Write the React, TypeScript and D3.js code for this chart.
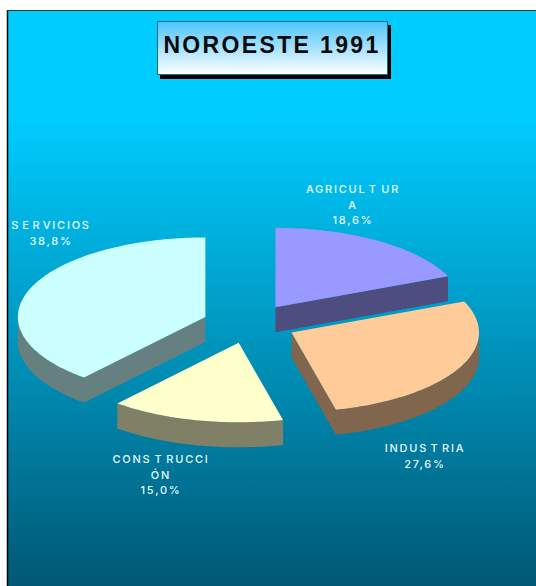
import React from "react";
import * as d3 from "d3";

const title = "NOROESTE 1991";
const categories = ["AGRICULTURA", "INDUSTRIA", "CONSTRUCCIÓN", "SERVICIOS"];
const shares = [18.6, 27.6, 15.0, 38.8];
const valueLabels = ["18,6%", "27,6%", "15,0%", "38,8%"];
const labelLines = [["AGRICULTUR", "A"], ["INDUSTRIA"], ["CONSTRUCCI", "ÓN"], ["SERVICIOS"]];
const topColors = ["#9999ff", "#ffcc99", "#ffffcc", "#ccffff"];
const wallColors = ["#4d4d80", "#80664d", "#808066", "#668080"];
const labelAnchors: [number, number][] = [[353, 193], [425, 452], [161, 463], [51, 229]];
const drawOrder = [0, 3, 2, 1];

// Extra letter gaps seen in the reference's label text, keyed by text line: [character index, gap].
const letterGaps: Record<string, [number, number][]> = {
  AGRICULTUR: [[7, 3.5], [8, 3.5]],
  INDUSTRIA: [[5, 2.5], [6, 2.5]],
  CONSTRUCCI: [[4, 3], [5, 3]],
  SERVICIOS: [[1, 2], [2, 2], [3, 1.5]],
};

const W = 536, H = 586;
const rx = 187.5, ry = 79.5, depth = 25, explode = 47, cx = 249.5, cy = 323.7;

const pieGen = d3.pie<number>().sort(null).value((d) => d);
const arcs = pieGen(shares);
const toPoint = (c: [number, number], a: number, dy = 0): [number, number] => [
  c[0] + rx * Math.sin(a),
  c[1] - ry * Math.cos(a) + dy,
];
const line = d3.line();

function slicePaths(i: number) {
  const { startAngle: s, endAngle: e } = arcs[i];
  const mid = (s + e) / 2;
  const c: [number, number] = [cx + explode * Math.sin(mid), cy - (explode * 78 / 187) * Math.cos(mid)];
  const sample = (a: number, b: number) => {
    const n = Math.max(2, Math.ceil(Math.abs(b - a) / 0.02));
    return d3.range(n + 1).map((k) => a + ((b - a) * k) / n);
  };
  const top = line([c, ...sample(s, e).map((a) => toPoint(c, a)), c]) + "Z";
  const walls: string[] = [];
  const lo = Math.max(s, Math.PI / 2), hi = Math.min(e, (3 * Math.PI) / 2);
  if (hi > lo) {
    const t = sample(lo, hi);
    walls.push(line([...t.map((a) => toPoint(c, a)), ...t.slice().reverse().map((a) => toPoint(c, a, depth))]) + "Z");
  }
  const radial = (a: number) => {
    const p = toPoint(c, a);
    return line([c, p, [p[0], p[1] + depth], [c[0], c[1] + depth]]) + "Z";
  };
  if (Math.sin(s) < -1e-6) walls.push(radial(s));
  if (Math.sin(e) > 1e-6) walls.push(radial(e));
  return { top, walls };
}

const dxFor = (t: string) => {
  const gaps = letterGaps[t];
  if (!gaps) return undefined;
  const dx = Array.from(t, () => 0);
  gaps.forEach(([k, g]) => { dx[k] = g; });
  return dx.join(" ");
};

export default function App() {
  return (
    <svg width={W} height={H} viewBox={`0 0 ${W} ${H}`} style={{ position: "fixed", left: 0, top: 0, display: "block" }}>
      <defs>
        <linearGradient id="bg" gradientUnits="userSpaceOnUse" x1="0" y1="120" x2="0" y2="586">
          <stop offset="0" stopColor="#00ccff" />
          <stop offset="1" stopColor="#005875" />
        </linearGradient>
        <linearGradient id="tb" x1="0" y1="0" x2="0" y2="1">
          <stop offset="0" stopColor="#4dc4fb" />
          <stop offset="1" stopColor="#ffffff" />
        </linearGradient>
      </defs>
      <rect width={W} height={H} fill="#ffffff" />
      <rect x={7} y={10} width={W - 7} height={H - 10} fill="url(#bg)" />
      <line x1={7.5} y1={10} x2={7.5} y2={H} stroke="#000" strokeWidth={1.5} />
      <line x1={7} y1={10.5} x2={W} y2={10.5} stroke="#333" strokeWidth={1} />

      <rect x={160} y={25} width={231} height={54} fill="#000" />
      <rect x={157.5} y={21.5} width={230} height={53} fill="url(#tb)" stroke="#1d6a80" strokeWidth={1} />
      <text x={272} y={53} textAnchor="middle" fontFamily="'Liberation Sans', Arial, sans-serif" fontWeight={700} fontSize={23} letterSpacing={2.35} fill="#0a0a0a">
        {title}
      </text>

      {drawOrder.map((i) => {
        const { top, walls } = slicePaths(i);
        return (
          <g key={categories[i]}>
            {walls.map((d, k) => (
              <path key={k} d={d} fill={wallColors[i]} />
            ))}
            <path d={top} fill={topColors[i]} />
          </g>
        );
      })}

      {categories.map((name, i) => {
        const lines = [...labelLines[i], valueLabels[i]];
        return (
          <text key={name} textAnchor="middle" fontFamily="Inter, sans-serif" fontWeight={500} fontSize={11} letterSpacing={1.75} fill="#e4f9ff">
            {lines.map((t, k) => (
              <tspan key={k} x={labelAnchors[i][0]} y={labelAnchors[i][1] + k * 15.7} dx={dxFor(t)}>
                {t}
              </tspan>
            ))}
          </text>
        );
      })}
    </svg>
  );
}
